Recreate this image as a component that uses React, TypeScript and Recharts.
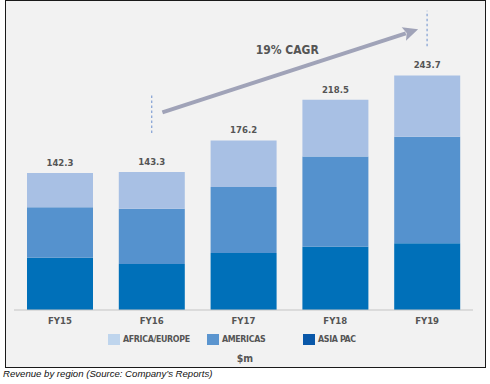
import React from 'react';
import { BarChart, Bar, XAxis, YAxis, LabelList, ReferenceLine, Legend } from 'recharts';

const categories = ['FY15', 'FY16', 'FY17', 'FY18', 'FY19'];
const asiaPac = [54.4, 47.8, 59.3, 65.8, 69.3];
const americas = [52.4, 57.5, 68.6, 93.6, 110.8];
const africaEurope = [35.5, 38.0, 48.3, 59.1, 63.6];
const totals = [142.3, 143.3, 176.2, 218.5, 243.7];
const seriesNames = ['AFRICA/EUROPE', 'AMERICAS', 'ASIA PAC'];
const cagrLabel = '19% CAGR';
const unitLabel = '$m';
const caption = "Revenue by region (Source: Company\u2019s Reports)";

// arrow / marker values (data units)
const arrowFrom = { x: 'FY16', y: 201.7 };
const arrowTo = { x: 'FY19', y: 294.6 };
const markerFY16 = [184, 223.5];
const markerFY19 = [274, 311];

const data = categories.map((c, i) => ({
  name: c,
  asia: asiaPac[i],
  americas: americas[i],
  africa: africaEurope[i],
  total: totals[i],
}));

const barColors = { africa: '#a8c0e4', americas: '#5592ce', asia: '#0070b9' };
const legendColors = ['#bfd5ed', '#5b95cf', '#0a58a9'];

const FONT = "'Liberation Sans Narrow', 'DejaVu Sans Condensed', Roboto, sans-serif";
const TXT = '#555555';

const ArrowShape = (props: any) => {
  const { x1, y1, x2, y2 } = props;
  if ([x1, y1, x2, y2].some((v) => typeof v !== 'number' || isNaN(v))) return null;
  const dx = x2 - x1;
  const dy = y2 - y1;
  const t0 = 10.7 / dx;
  const t1 = 1 - 9 / dx;
  const sx = x1 + dx * t0;
  const sy = y1 + dy * t0;
  const ex = x1 + dx * t1;
  const ey = y1 + dy * t1;
  const len = Math.hypot(ex - sx, ey - sy);
  const ux = (ex - sx) / len;
  const uy = (ey - sy) / len;
  const headLen = 15;
  const headW = 7;
  const bx = ex - ux * headLen;
  const by = ey - uy * headLen;
  const px = -uy;
  const py = ux;
  const mx = (sx + ex) / 2;
  const my = (sy + ey) / 2;
  return (
    <g>
      <line x1={sx} y1={sy} x2={bx + ux * 2} y2={by + uy * 2} stroke="#a0a3b8" strokeWidth={4} />
      <polygon
        points={`${ex},${ey} ${bx + px * headW},${by + py * headW} ${bx + ux * 3},${by + uy * 3} ${bx - px * headW},${by - py * headW}`}
        fill="#a0a3b8"
      />
      <text x={mx - 3} y={my - 21} textAnchor="middle" dominantBaseline="central" fontFamily={FONT} fontWeight={700} fontSize={12} fill={TXT}>
        {cagrLabel}
      </text>
    </g>
  );
};

const LegendContent = () => (
  <div style={{ height: 40, position: 'relative', fontFamily: FONT, fontWeight: 700, fontSize: 8.8, letterSpacing: -0.35, color: TXT }}>
    {seriesNames.map((n, i) => {
      const lefts = [94, 193, 289];
      return (
        <div key={n} style={{ position: 'absolute', left: lefts[i], top: 3, display: 'flex', alignItems: 'center', height: 12 }}>
          <span style={{ display: 'inline-block', width: 12, height: 11, background: legendColors[i], marginRight: 3 }} />
          <span>{n}</span>
        </div>
      );
    })}
    <div style={{ position: 'absolute', left: -14, width: 490, top: 22, textAlign: 'center', fontSize: 10.5, letterSpacing: 0 }}>{unitLabel}</div>
  </div>
);

export default function App() {
  return (
    <div style={{ position: 'absolute', left: 0, top: 0, width: 490, height: 384, background: '#ffffff' }}>
      <div
        style={{
          position: 'absolute',
          left: 5,
          top: 0,
          width: 479,
          height: 366,
          border: '1px solid #1a1a1a',
          background: '#f2f2f2',
        }}
      />
      <div style={{ position: 'absolute', left: 0, top: 0 }}>
        <BarChart
          width={490}
          height={384}
          data={data}
          margin={{ top: 2, right: 17, bottom: 14, left: 14 }}
        >
          <XAxis
            dataKey="name"
            axisLine={{ stroke: '#c4c4c4', strokeWidth: 1.2 }}
            tickLine={false}
            tickSize={6}
            tickMargin={1}
            height={20}
            tick={{ fontFamily: FONT, fontWeight: 700, fontSize: 9.5, fill: TXT }}
          />
          <YAxis hide domain={[0, 320]} />
          <Legend verticalAlign="bottom" height={40} content={<LegendContent />} />
          <Bar dataKey="asia" name={seriesNames[2]} stackId="a" fill={barColors.asia} barSize={66} isAnimationActive={false} />
          <Bar dataKey="americas" name={seriesNames[1]} stackId="a" fill={barColors.americas} barSize={66} isAnimationActive={false} />
          <Bar dataKey="africa" name={seriesNames[0]} stackId="a" fill={barColors.africa} barSize={66} isAnimationActive={false}>
            <LabelList
              dataKey="total"
              position="top"
              offset={7}
              style={{ fontFamily: FONT, fontWeight: 700, fontSize: 9.5, fill: TXT }}
            />
          </Bar>
          <ReferenceLine
            segment={[{ x: 'FY16', y: markerFY16[0] }, { x: 'FY16', y: markerFY16[1] }]}
            stroke="#8aa6d6"
            strokeWidth={1.3}
            strokeDasharray="2.5 2.5"
            ifOverflow="visible"
          />
          <ReferenceLine
            segment={[{ x: 'FY19', y: markerFY19[0] }, { x: 'FY19', y: markerFY19[1] }]}
            stroke="#8aa6d6"
            strokeWidth={1.3}
            strokeDasharray="2.5 2.5"
            ifOverflow="visible"
          />
          <ReferenceLine segment={[arrowFrom, arrowTo]} ifOverflow="visible" shape={<ArrowShape />} />
        </BarChart>
      </div>
      <div
        style={{
          position: 'absolute',
          left: 3,
          top: 368,
          fontFamily: "'Liberation Sans', Arial, sans-serif",
          fontStyle: 'italic',
          fontSize: 9.6,
          color: '#111',
          whiteSpace: 'nowrap',
        }}
      >
        {caption}
      </div>
    </div>
  );
}
